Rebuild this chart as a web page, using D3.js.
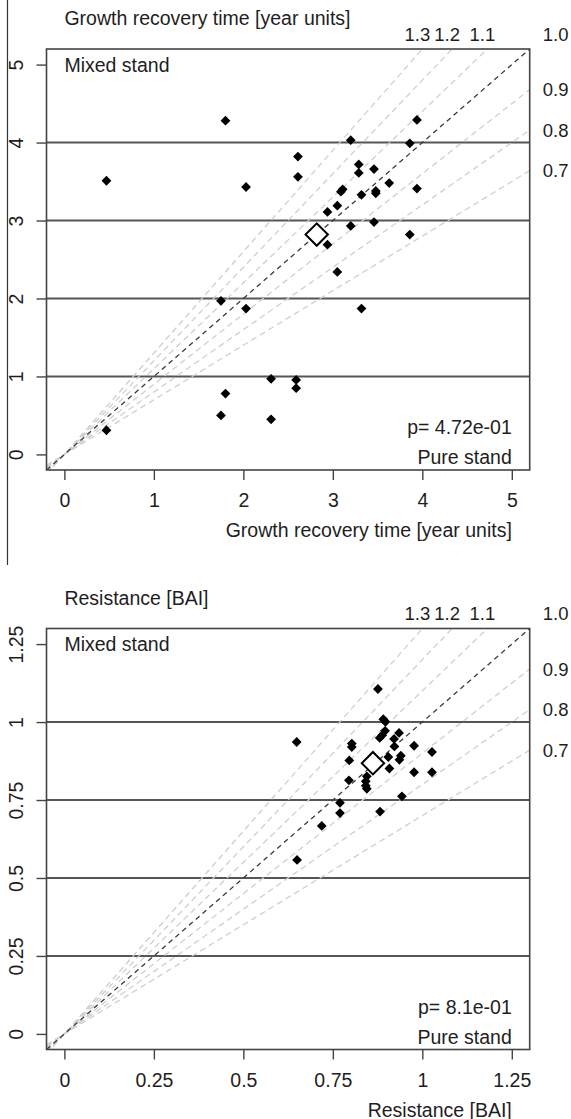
<!DOCTYPE html>
<html>
<head>
<meta charset="utf-8">
<script src="https://cdn.jsdelivr.net/npm/d3@7"></script>
<style>
  body { margin: 0; background: #fff; }
  text { font-family: "Liberation Sans", Arial, sans-serif; fill: #1e1e1e; }
</style>
</head>
<body>
<div id="chart"></div>
<script>
// Growth recovery time panel (pure stand on x, mixed stand on y)
const growthX = [1.80, 0.47, 2.61, 2.61, 2.03, 2.94, 2.94, 1.75, 3.94, 3.20, 3.86, 3.29,
  3.29, 3.46, 3.11, 3.09, 3.63, 3.94, 3.32, 3.48, 3.48, 3.05, 3.46, 3.20, 3.86, 3.05,
  3.32, 2.03, 2.31, 2.59, 2.59, 1.80, 1.75, 2.31, 0.47];
const growthY = [4.28, 3.51, 3.82, 3.56, 3.43, 3.11, 2.69, 1.97, 4.29, 4.03, 3.99, 3.72,
  3.61, 3.66, 3.40, 3.37, 3.48, 3.41, 3.33, 3.38, 3.35, 3.19, 2.98, 2.93, 2.82, 2.34,
  1.87, 1.87, 0.97, 0.955, 0.85, 0.78, 0.50, 0.45, 0.31];
const growthMean = [2.82, 2.82];
const growthTicks = [0, 1, 2, 3, 4, 5];

// Resistance panel
const resistX = [0.876, 0.891, 0.897, 0.649, 0.803, 0.803, 0.896, 0.888, 0.881, 0.935,
  0.921, 0.922, 0.977, 1.027, 0.940, 0.936, 0.905, 0.796, 0.908, 0.977, 1.027, 0.845,
  0.795, 0.842, 0.842, 0.845, 0.943, 0.770, 0.770, 0.882, 0.719, 0.650];
const resistY = [1.106, 1.009, 1.001, 0.936, 0.931, 0.920, 0.972, 0.958, 0.949, 0.965,
  0.946, 0.922, 0.924, 0.904, 0.892, 0.879, 0.888, 0.877, 0.851, 0.839, 0.839, 0.826,
  0.813, 0.810, 0.796, 0.786, 0.762, 0.741, 0.708, 0.713, 0.667, 0.558];
const resistMean = [0.862, 0.868];
const resistTicks = [0, 0.25, 0.5, 0.75, 1, 1.25];

// Ratio lines mixed/pure
const ratios = [1.3, 1.2, 1.1, 1.0, 0.9, 0.8, 0.7];

const panels = [
  { top: 49, max: 5, xs: growthX, ys: growthY, mean: growthMean, ticks: growthTicks,
    title: "Growth recovery time [year units]", xlabel: "Growth recovery time [year units]",
    p: "p= 4.72e-01" },
  { top: 628.5, max: 1.25, xs: resistX, ys: resistY, mean: resistMean, ticks: resistTicks,
    title: "Resistance [BAI]", xlabel: "Resistance [BAI]", p: "p= 8.1e-01" }
];

const W = 571, H = 1119;
const boxLeft = 46.5, boxRight = 529.7, boxH = 421;
const fs = 19.5;

const svg = d3.select("#chart").append("svg")
  .attr("width", W).attr("height", H);

// stray frame line on the left of the first figure
svg.append("line")
  .attr("x1", 7.5).attr("x2", 7.5).attr("y1", 0).attr("y2", 565)
  .attr("stroke", "#333").attr("stroke-width", 1.2);

panels.forEach((p, i) => drawPanel(p, i));

function drawPanel(p, idx) {
  const lo = -0.04 * p.max, hi = 1.04 * p.max;
  const x = d3.scaleLinear().domain([lo, hi]).range([boxLeft, boxRight]);
  const y = d3.scaleLinear().domain([lo, hi]).range([p.top + boxH, p.top]);
  const g = svg.append("g");

  const clipId = "clip" + idx;
  g.append("clipPath").attr("id", clipId)
    .append("rect")
    .attr("x", boxLeft).attr("y", p.top)
    .attr("width", boxRight - boxLeft).attr("height", boxH);

  // horizontal reference lines
  g.selectAll(".hline")
    .data(p.ticks.slice(1, -1))
    .join("line")
    .attr("x1", boxLeft).attr("x2", boxRight)
    .attr("y1", d => y(d)).attr("y2", d => y(d))
    .attr("stroke", "#555").attr("stroke-width", 2);

  // ratio lines y = k * x
  const lines = g.append("g").attr("clip-path", `url(#${clipId})`);
  lines.selectAll("line")
    .data(ratios.filter(k => k !== 1.0))
    .join("line")
    .attr("x1", x(lo)).attr("y1", d => y(lo * d))
    .attr("x2", x(hi)).attr("y2", d => y(hi * d))
    .attr("stroke", "#cfcfcf").attr("stroke-width", 1.3)
    .attr("stroke-dasharray", "6,4");
  lines.append("line")
    .attr("x1", x(lo)).attr("y1", y(lo))
    .attr("x2", x(hi)).attr("y2", y(hi))
    .attr("stroke", "#3a3a3a").attr("stroke-width", 1.3)
    .attr("stroke-dasharray", "5,4");

  // box
  g.append("rect")
    .attr("x", boxLeft).attr("y", p.top)
    .attr("width", boxRight - boxLeft).attr("height", boxH)
    .attr("fill", "none").attr("stroke", "#444").attr("stroke-width", 1.6);

  // axes
  const fmt = d => String(d);
  const xa = g.append("g")
    .attr("transform", `translate(0,${p.top + boxH})`)
    .call(d3.axisBottom(x).tickValues(p.ticks).tickFormat(fmt).tickSize(10));
  xa.select(".domain").remove();
  xa.selectAll("line").attr("stroke", "#444").attr("stroke-width", 1.4);
  xa.selectAll("text")
    .attr("y", 30).attr("dy", null)
    .attr("dominant-baseline", "central")
    .attr("font-size", fs).attr("font-family", "Liberation Sans, Arial, sans-serif")
    .attr("fill", "#1e1e1e");

  const ya = g.append("g")
    .attr("transform", `translate(${boxLeft},0)`)
    .call(d3.axisLeft(y).tickValues(p.ticks).tickFormat(fmt).tickSize(10));
  ya.select(".domain").remove();
  ya.selectAll("line").attr("stroke", "#444").attr("stroke-width", 1.4);
  ya.selectAll("text")
    .attr("x", null).attr("dy", null)
    .attr("transform", "translate(-31,0) rotate(-90)")
    .attr("text-anchor", "middle")
    .attr("dominant-baseline", "central")
    .attr("font-size", fs).attr("font-family", "Liberation Sans, Arial, sans-serif")
    .attr("fill", "#1e1e1e");

  // titles and annotations
  const txt = (tx, ty, s, anchor, size = fs) => g.append("text")
    .attr("x", tx).attr("y", ty)
    .attr("text-anchor", anchor)
    .attr("dominant-baseline", "central")
    .attr("font-size", size)
    .text(s);

  txt(x(0), p.top - 31, p.title, "start");
  txt(x(0), y(p.max), "Mixed stand", "start");
  txt(x(p.max), p.top + boxH - 43, p.p, "end");
  txt(x(p.max), p.top + boxH - 13, "Pure stand", "end");
  txt(x(p.max), p.top + boxH + 60, p.xlabel, "end");

  // ratio labels: steep lines labelled on top edge, others on right side
  ratios.forEach(k => {
    if (k > 1) {
      txt(x(hi / k) - 5, p.top - 15, k.toFixed(1), "middle", 18.5);
    } else if (k === 1) {
      txt(boxRight + 26, p.top - 15, k.toFixed(1), "middle", 18.5);
    } else {
      txt(boxRight + 26, y(hi * k), k.toFixed(1), "middle", 18.5);
    }
  });

  // points
  const pts = p.xs.map((v, j) => [v, p.ys[j]]);
  g.selectAll(".pt")
    .data(pts)
    .join("path")
    .attr("d", d3.symbol(d3.symbolSquare, 48)())
    .attr("transform", d => `translate(${x(d[0])},${y(d[1])}) rotate(45)`)
    .attr("fill", "#000");

  g.append("path")
    .attr("d", d3.symbol(d3.symbolSquare, 250)())
    .attr("transform", `translate(${x(p.mean[0])},${y(p.mean[1])}) rotate(45)`)
    .attr("fill", "#fff").attr("stroke", "#000").attr("stroke-width", 2);
}
</script>
</body>
</html>
